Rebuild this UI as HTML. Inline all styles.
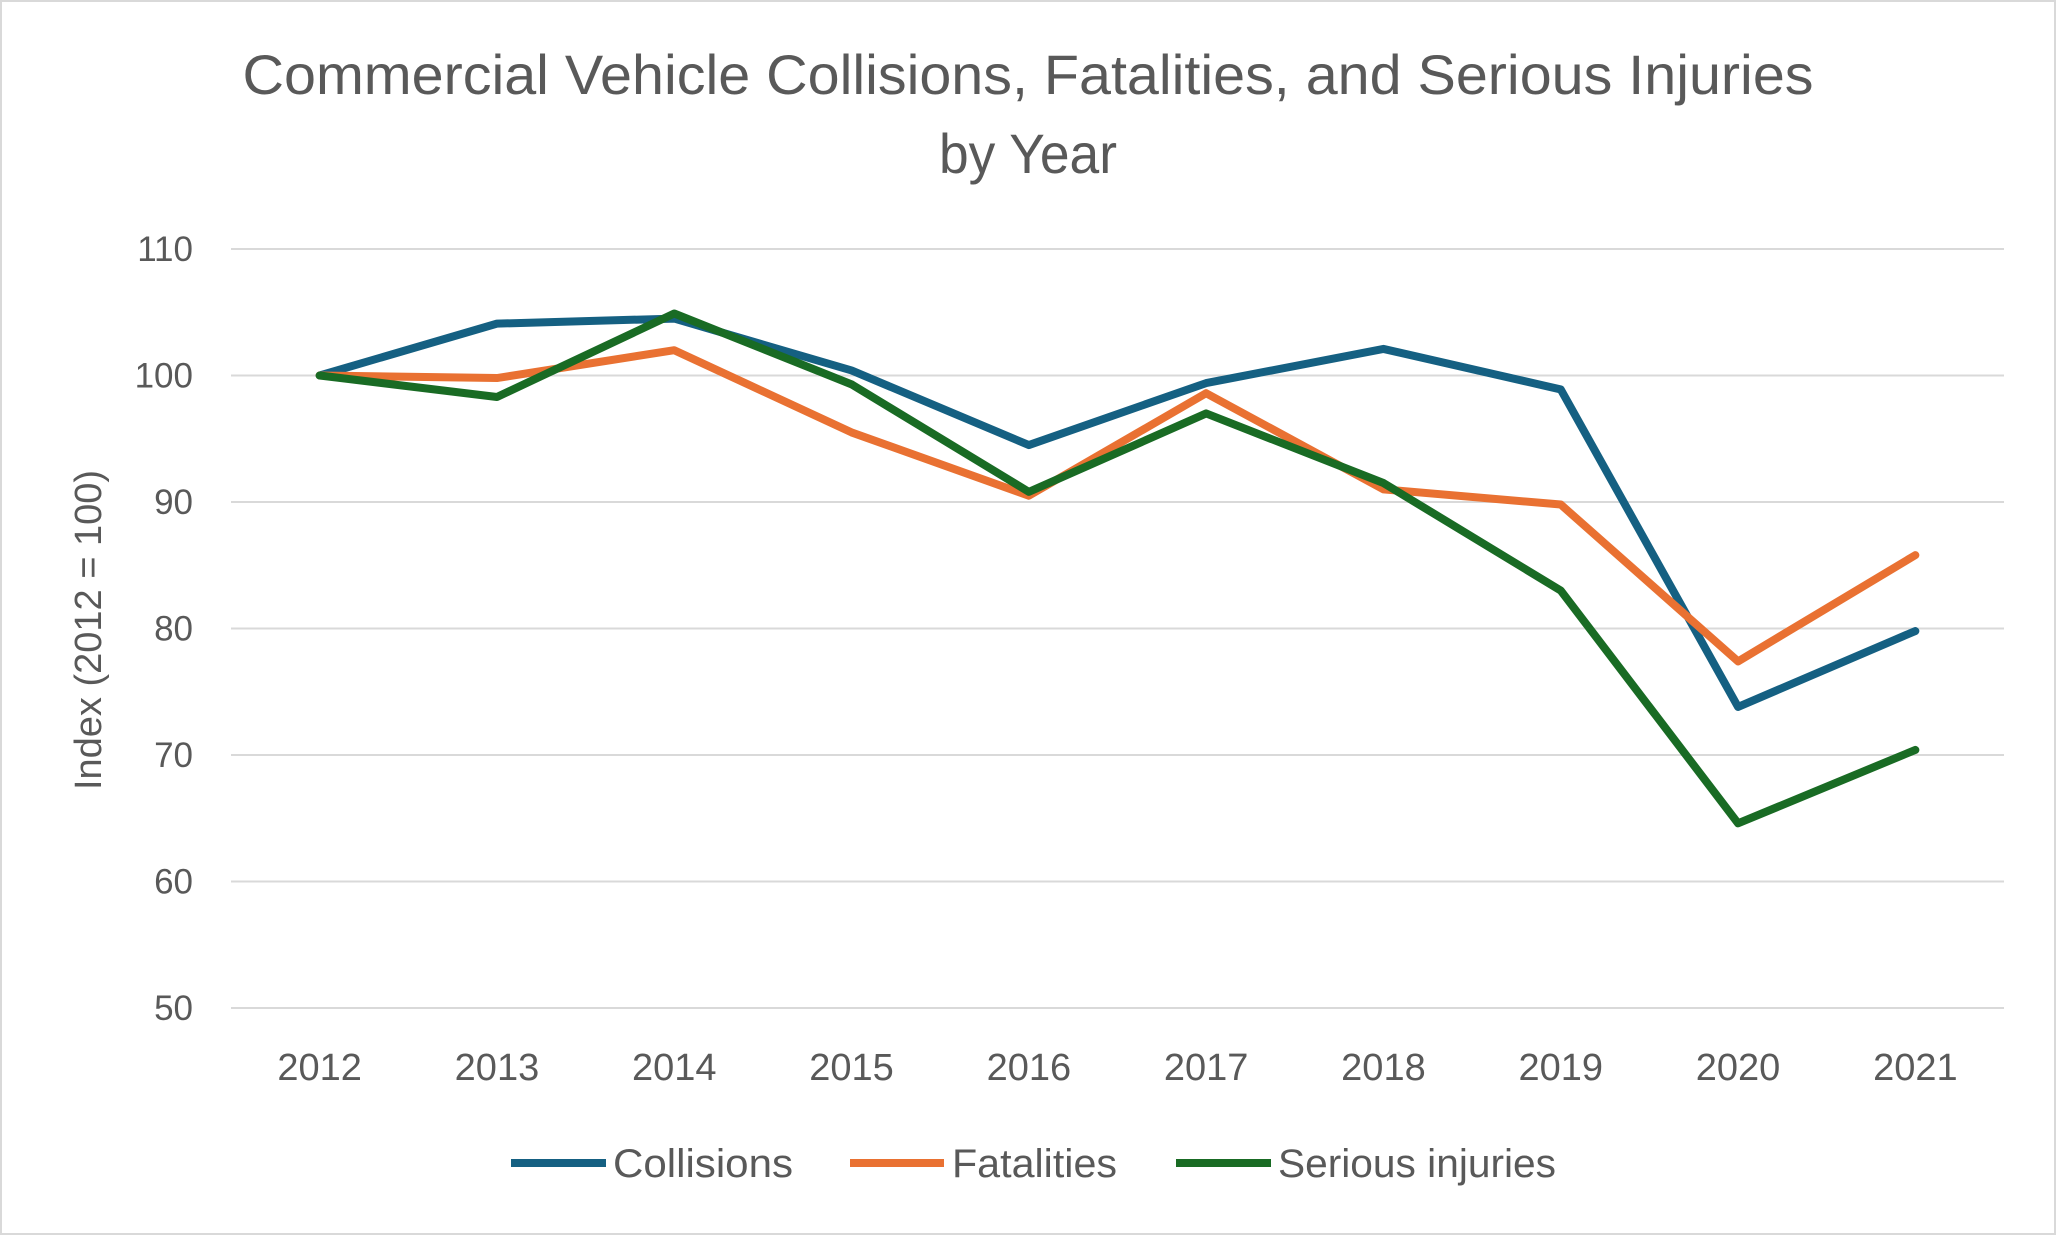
<!DOCTYPE html>
<html><head><meta charset="utf-8"><style>
html,body{margin:0;padding:0;background:#fff;}
svg{display:block;font-family:"Liberation Sans",sans-serif;}
</style></head><body>
<svg id="chart" width="2056" height="1235" viewBox="0 0 2056 1235">
<rect x="1" y="1" width="2054" height="1233" fill="#fff" stroke="#d9d9d9" stroke-width="2"/>
<text x="1028" y="94" text-anchor="middle" font-size="56" fill="#595959" textLength="1571" lengthAdjust="spacingAndGlyphs">Commercial Vehicle Collisions, Fatalities, and Serious Injuries</text>
<text x="1028" y="173" text-anchor="middle" font-size="56" fill="#595959" textLength="178" lengthAdjust="spacingAndGlyphs">by Year</text>
<text transform="translate(101,630) rotate(-90)" text-anchor="middle" font-size="38" fill="#595959">Index (2012 = 100)</text>
<g id="grid"></g><g id="series"></g><g id="xlabels"></g>
<g font-size="40" fill="#595959">
<line x1="511" y1="1163" x2="606" y2="1163" stroke="#156082" stroke-width="8"/>
<text x="613" y="1177" textLength="180" lengthAdjust="spacingAndGlyphs">Collisions</text>
<line x1="850" y1="1163" x2="944" y2="1163" stroke="#E97132" stroke-width="8"/>
<text x="952" y="1177" textLength="165" lengthAdjust="spacingAndGlyphs">Fatalities</text>
<line x1="1176" y1="1163" x2="1271" y2="1163" stroke="#196B24" stroke-width="8"/>
<text x="1278" y="1177" textLength="278" lengthAdjust="spacingAndGlyphs">Serious injuries</text>
</g>
</svg>
<script>
const years = ["2012","2013","2014","2015","2016","2017","2018","2019","2020","2021"];
const collisions = [100, 104.1, 104.5, 100.4, 94.5, 99.4, 102.1, 98.9, 73.8, 79.8];
const fatalities = [100, 99.8, 102, 95.5, 90.5, 98.6, 91, 89.8, 77.4, 85.8];
const seriousInjuries = [100, 98.3, 104.9, 99.3, 90.8, 97, 91.5, 83, 64.6, 70.4];
const yTicks = [50, 60, 70, 80, 90, 100, 110];

const NS = "http://www.w3.org/2000/svg";
const x0 = 231, x1 = 2004, yTop = 249, yBot = 1008, yMin = 50, yMax = 110;
const step = (x1 - x0) / years.length;
const xs = i => x0 + step * (i + 0.5);
const ys = v => yBot - (v - yMin) / (yMax - yMin) * (yBot - yTop);
function mk(t, a, p) { const e = document.createElementNS(NS, t); for (const k in a) e.setAttribute(k, a[k]); p.appendChild(e); return e; }

const grid = document.getElementById('grid');
yTicks.forEach(v => {
  const l = mk('line', {x1: x0, x2: x1, y1: ys(v), y2: ys(v), stroke: '#d9d9d9', 'stroke-width': 2}, grid);
  
  
  const t = mk('text', {x: 193, y: ys(v) + 12, 'text-anchor': 'end', 'font-size': 35, fill: '#595959'}, grid);
  t.textContent = v;
  
  
});
const xl = document.getElementById('xlabels');
years.forEach((y, i) => {
  const t = mk('text', {x: xs(i), y: 1080, 'text-anchor': 'middle', 'font-size': 38, fill: '#595959'}, xl);
  t.textContent = y;
  
  
});
const sg = document.getElementById('series');
[[collisions, '#156082', 'collisions-line'], [fatalities, '#E97132', 'fatalities-line'], [seriousInjuries, '#196B24', 'serious-injuries-line']].forEach(([d, c, n]) => {
  const p = mk('polyline', {points: d.map((v, i) => xs(i) + ',' + ys(v)).join(' '), fill: 'none', stroke: c, 'stroke-width': 8, 'stroke-linejoin': 'round', 'stroke-linecap': 'round'}, sg);
  
  
});
</script>
</body></html>
